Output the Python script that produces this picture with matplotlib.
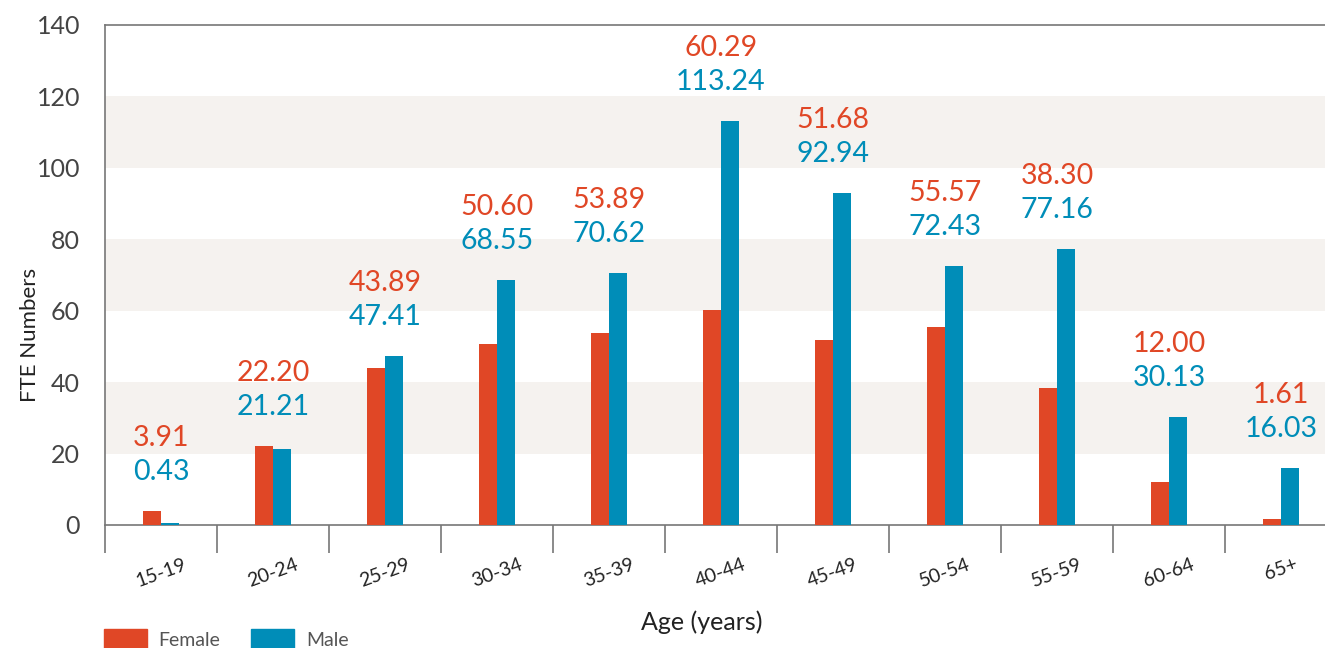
# FTE numbers by age group and gender

import numpy as np
import matplotlib.pyplot as plt
from matplotlib.patches import Patch

plt.rcParams['font.family'] = ['Lato', 'DejaVu Sans']

# data
age_groups = ["15-19", "20-24", "25-29", "30-34", "35-39", "40-44",
              "45-49", "50-54", "55-59", "60-64", "65+"]
female = [3.91, 22.20, 43.89, 50.60, 53.89, 60.29, 51.68, 55.57, 38.30, 12.00, 1.61]
male = [0.43, 21.21, 47.41, 68.55, 70.62, 113.24, 92.94, 72.43, 77.16, 30.13, 16.03]

red = "#e04726"
blue = "#008db8"
axis_grey = "#777777"
text_grey = "#444444"

fig = plt.figure(figsize=(13.25, 6.48), dpi=100)
W, H = 1325.0, 648.0
ax = fig.add_axes([105 / W, 123 / H, 1232 / W, 500 / H])

x = np.arange(len(age_groups))
bw = 0.16
ax.bar(x - bw / 2, female, bw, color=red, zorder=3)
ax.bar(x + bw / 2, male, bw, color=blue, zorder=3)

# alternating bands
for lo in (20, 60, 100):
    ax.axhspan(lo, lo + 20, color="#f5f2ef", lw=0, zorder=0)

# value labels above each group
for i in range(len(x)):
    top = max(female[i], male[i])
    ax.annotate(f"{male[i]:.2f}", (x[i], top), xytext=(0, 39),
                textcoords="offset pixels", ha="center", va="center",
                fontsize=20.5, color=blue, zorder=4)
    ax.annotate(f"{female[i]:.2f}", (x[i], top), xytext=(0, 73),
                textcoords="offset pixels", ha="center", va="center",
                fontsize=20.5, color=red, zorder=4)

ax.set_xlim(-0.5, len(x) - 0.5)
ax.set_ylim(0, 140)
ax.set_yticks(np.arange(0, 141, 20))
ax.tick_params(axis="y", length=0, pad=18, labelsize=18, labelcolor=text_grey)

# group separators as ticks, labels at centres
ax.set_xticks(np.arange(-0.5, len(x), 1.0))
ax.set_xticklabels([])
ax.set_xticks(x, minor=True)
ax.set_xticklabels(age_groups, minor=True, rotation=20, fontsize=14,
                   color="#222222")
ax.tick_params(axis="x", which="major", length=20, width=1.2, color=axis_grey)
ax.tick_params(axis="x", which="minor", length=0, pad=22)

for s in ("left", "bottom", "top"):
    ax.spines[s].set_color(axis_grey)
    ax.spines[s].set_linewidth(1.2)
ax.spines["right"].set_visible(False)

fig.text(30 / W, 1 - 335 / H, "FTE Numbers", rotation=90, ha="center",
         va="center", fontsize=16, color="#222222")
fig.text(702 / W, 1 - 622 / H, "Age (years)", ha="center", va="center",
         fontsize=18, color="#222222")

handles = [Patch(color=red, label="Female"), Patch(color=blue, label="Male")]
leg = fig.legend(handles=handles, loc="upper left",
                 bbox_to_anchor=(104 / W, 1 - 629 / H), ncol=2, frameon=False,
                 fontsize=14, handlelength=2.2, handleheight=1.2,
                 handletextpad=0.6, columnspacing=1.6, borderpad=0,
                 borderaxespad=0)
for t in leg.get_texts():
    t.set_color("#555555")

plt.savefig("out.png", dpi=100)
